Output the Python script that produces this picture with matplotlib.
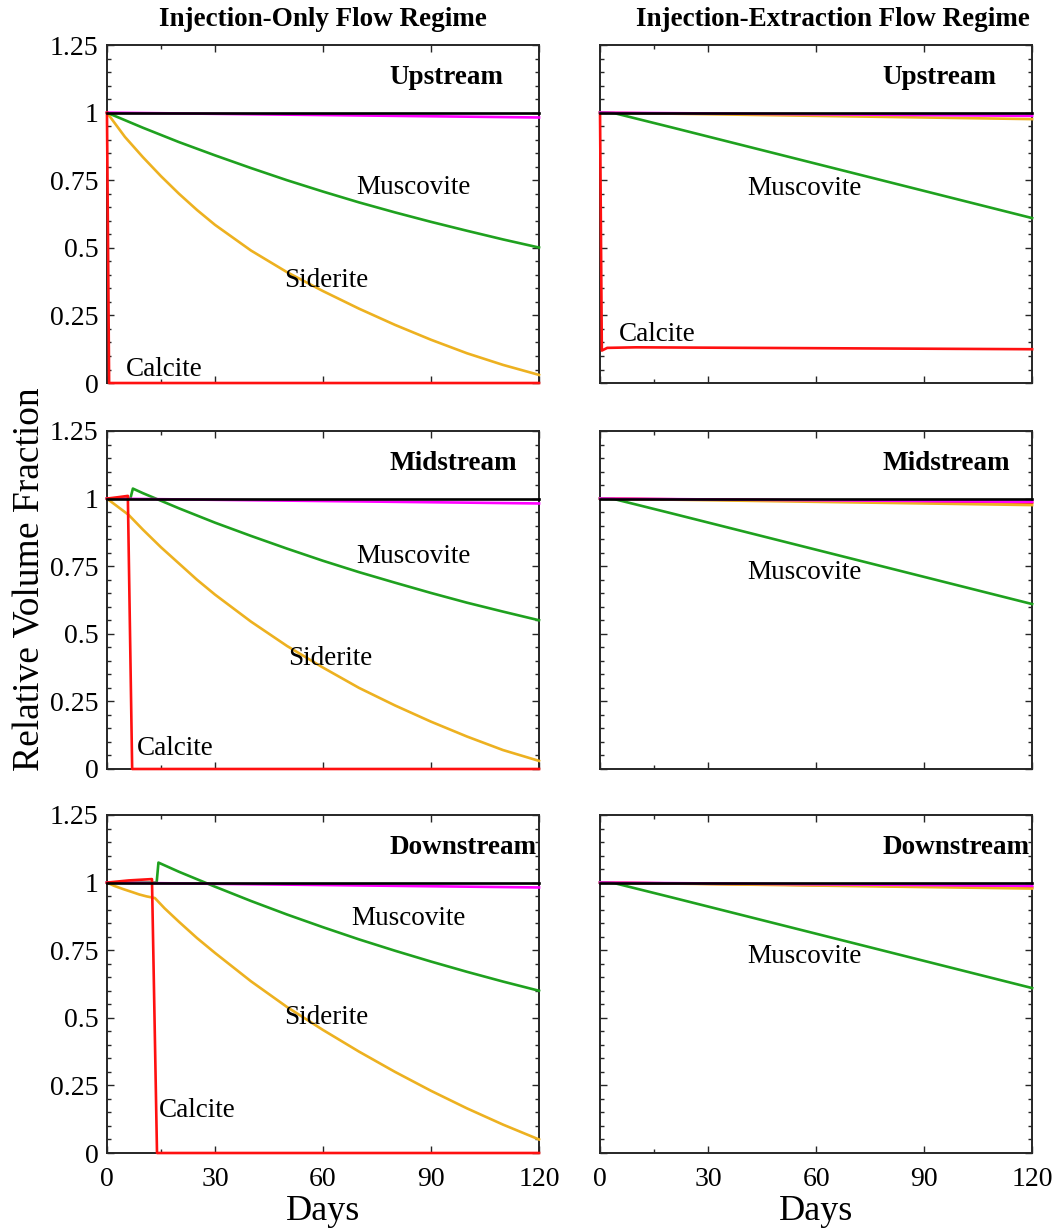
import matplotlib
matplotlib.use("Agg")
import matplotlib.pyplot as plt
from matplotlib.ticker import MultipleLocator, FixedLocator, FuncFormatter

plt.rcParams["font.family"] = ["Liberation Serif", "DejaVu Serif"]

# ---------------------------------------------------------------- data
regimes = ["Injection-Only Flow Regime", "Injection-Extraction Flow Regime"]
locations = ["Upstream", "Midstream", "Downstream"]

# Injection-only regime
io_up_calcite_t = [0, 0.6, 120]
io_up_calcite_v = [1.0, 0.0, 0.0]
io_up_siderite_t = [0, 5, 10, 15, 20, 25, 30, 40, 50, 60, 70, 80, 90, 100, 110, 120]
io_up_siderite_v = [1.0, 0.91, 0.835, 0.765, 0.70, 0.64, 0.585, 0.49, 0.41, 0.34, 0.275, 0.215, 0.16, 0.11, 0.067, 0.03]
io_up_muscovite_t = [0, 10, 20, 30, 40, 50, 60, 70, 80, 90, 100, 110, 120]
io_up_muscovite_v = [1.0, 0.944, 0.891, 0.842, 0.795, 0.750, 0.708, 0.668, 0.631, 0.596, 0.563, 0.531, 0.501]

io_mid_calcite_t = [0, 3, 5.8, 7.0, 120]
io_mid_calcite_v = [1.0, 1.005, 1.01, 0.0, 0.0]
io_mid_siderite_t = [0, 3, 6, 10, 15, 20, 25, 30, 40, 50, 60, 70, 80, 90, 100, 110, 120]
io_mid_siderite_v = [1.0, 0.97, 0.94, 0.885, 0.82, 0.76, 0.70, 0.645, 0.545, 0.455, 0.375, 0.30, 0.235, 0.175, 0.12, 0.07, 0.03]
io_mid_muscovite_t = [0, 6.5, 7.2, 10, 20, 30, 40, 50, 60, 70, 80, 90, 100, 110, 120]
io_mid_muscovite_v = [1.0, 1.0, 1.037, 1.020, 0.964, 0.911, 0.862, 0.815, 0.770, 0.728, 0.689, 0.651, 0.615, 0.582, 0.550]

io_down_calcite_t = [0, 6, 12.5, 13.9, 120]
io_down_calcite_v = [1.0, 1.008, 1.013, 0.0, 0.0]
io_down_siderite_t = [0, 2, 4.5, 7, 9, 11, 13.3, 16, 20, 25, 30, 40, 50, 60, 70, 80, 90, 100, 110, 120]
io_down_siderite_v = [1.0, 0.988, 0.976, 0.965, 0.956, 0.949, 0.943, 0.905, 0.855, 0.795, 0.74, 0.635, 0.54, 0.455, 0.375, 0.30, 0.23, 0.165, 0.105, 0.05]
io_down_muscovite_t = [0, 13.8, 14.3, 20, 30, 40, 50, 60, 70, 80, 90, 100, 110, 120]
io_down_muscovite_v = [1.0, 1.0, 1.074, 1.040, 0.985, 0.932, 0.882, 0.835, 0.790, 0.748, 0.708, 0.670, 0.634, 0.600]

io_other_t = [0, 120]
io_other_v = [1.0, 0.982]

# Injection-extraction regime
ie_up_calcite_t = [0, 0.5, 2, 10, 120]
ie_up_calcite_v = [1.0, 0.12, 0.13, 0.132, 0.125]
ie_up_siderite_t = [0, 120]
ie_up_siderite_v = [1.0, 0.976]
ie_mid_calcite_t = [0, 120]
ie_mid_calcite_v = [1.0, 0.985]
ie_mid_siderite_t = [0, 120]
ie_mid_siderite_v = [1.0, 0.976]
ie_down_calcite_t = [0, 120]
ie_down_calcite_v = [1.0, 0.982]
ie_down_siderite_t = [0, 120]
ie_down_siderite_v = [1.0, 0.978]
ie_muscovite_t = [0, 4, 20, 40, 60, 80, 100, 120]
ie_muscovite_v = [1.0, 0.998, 0.945, 0.878, 0.811, 0.744, 0.677, 0.61]
ie_other_t = [0, 120]
ie_other_v = [1.0, 0.988]

reference_t = [0, 120]
reference_v = [1.0, 1.0]

panels = {
    (0, 0): dict(cal=(io_up_calcite_t, io_up_calcite_v), sid=(io_up_siderite_t, io_up_siderite_v),
                 mus=(io_up_muscovite_t, io_up_muscovite_v), oth=(io_other_t, io_other_v),
                 labels=[("Muscovite", 85, 0.722), ("Siderite", 61, 0.378), ("Calcite", 16, 0.05)]),
    (1, 0): dict(cal=(io_mid_calcite_t, io_mid_calcite_v), sid=(io_mid_siderite_t, io_mid_siderite_v),
                 mus=(io_mid_muscovite_t, io_mid_muscovite_v), oth=(io_other_t, io_other_v),
                 labels=[("Muscovite", 85, 0.786), ("Siderite", 62, 0.41), ("Calcite", 19, 0.074)]),
    (2, 0): dict(cal=(io_down_calcite_t, io_down_calcite_v), sid=(io_down_siderite_t, io_down_siderite_v),
                 mus=(io_down_muscovite_t, io_down_muscovite_v), oth=(io_other_t, io_other_v),
                 labels=[("Muscovite", 83.6, 0.868), ("Siderite", 61, 0.5), ("Calcite", 25, 0.158)]),
    (0, 1): dict(cal=(ie_up_calcite_t, ie_up_calcite_v), sid=(ie_up_siderite_t, ie_up_siderite_v),
                 mus=(ie_muscovite_t, ie_muscovite_v), oth=(ie_other_t, ie_other_v),
                 labels=[("Muscovite", 56.8, 0.72), ("Calcite", 15.8, 0.18)]),
    (1, 1): dict(cal=(ie_mid_calcite_t, ie_mid_calcite_v), sid=(ie_mid_siderite_t, ie_mid_siderite_v),
                 mus=(ie_muscovite_t, ie_muscovite_v), oth=(ie_other_t, ie_other_v),
                 labels=[("Muscovite", 56.8, 0.727)]),
    (2, 1): dict(cal=(ie_down_calcite_t, ie_down_calcite_v), sid=(ie_down_siderite_t, ie_down_siderite_v),
                 mus=(ie_muscovite_t, ie_muscovite_v), oth=(ie_other_t, ie_other_v),
                 labels=[("Muscovite", 56.8, 0.728)]),
}

x_major = [0, 30, 60, 90, 120]
x_minor = [15]

# ---------------------------------------------------------------- styles
C_RED = "#ff1010"
C_ORANGE = "#edb120"
C_GREEN = "#1fa11f"
C_MAGENTA = "#ff00ff"
C_BLACK = "#000000"
SPINE = "#262626"
FS = 19.5
FS_TICK = 20
FS_AXIS = 26

fig = plt.figure(figsize=(10.59, 12.30), dpi=100)

col_x = [0.101, 0.5666]
ax_w = 0.408
row_y = [0.6886, 0.3748, 0.0626]
ax_h = 0.2748

for (r, c), p in panels.items():
    ax = fig.add_axes([col_x[c], row_y[r], ax_w, ax_h])
    lw = 1.9
    ax.plot(*p["sid"], color=C_ORANGE, lw=lw, zorder=3, clip_on=False)
    ax.plot(*p["mus"], color=C_GREEN, lw=lw, zorder=3.1, clip_on=False)
    ax.plot(*p["oth"], color=C_MAGENTA, lw=lw, zorder=3.2, clip_on=False)
    ax.plot(*p["cal"], color=C_RED, lw=lw, zorder=3.3 if c == 0 else 2.9, clip_on=False)
    ax.plot(reference_t, reference_v, color=C_BLACK, lw=lw, zorder=3.4, clip_on=False)

    for txt, tx, ty in p["labels"]:
        ax.text(tx, ty, txt, fontsize=FS, ha="center", va="center", zorder=5)
    ax.text(78.5, 1.13, locations[r], fontsize=FS, fontweight="bold",
            ha="left", va="center", zorder=5)

    ax.set_xlim(0, 120)
    ax.set_ylim(0, 1.25)
    ax.xaxis.set_major_locator(FixedLocator(x_major))
    ax.xaxis.set_minor_locator(FixedLocator(x_minor))
    ax.yaxis.set_major_locator(MultipleLocator(0.25))
    ax.yaxis.set_minor_locator(MultipleLocator(0.05))
    ax.yaxis.set_major_formatter(FuncFormatter(lambda v, pos: f"{v:g}"))
    ax.tick_params(which="both", direction="in", top=True, right=True,
                   color=SPINE, width=1.0, labelsize=FS_TICK)
    ax.tick_params(axis="y", pad=6)
    ax.tick_params(axis="x", pad=10)
    ax.tick_params(which="major", length=5)
    ax.tick_params(which="minor", length=3)
    if c == 1:
        ax.tick_params(labelleft=False)
    if r < 2:
        ax.tick_params(labelbottom=False)
    else:
        ax.set_xlabel("Days", fontsize=FS_AXIS, labelpad=2)
    for s in ax.spines.values():
        s.set_color(SPINE)
        s.set_linewidth(1.4)

fig.text(323 / 1059, 1 - 20 / 1230, regimes[0], fontsize=FS, fontweight="bold",
         ha="center", va="center")
fig.text(833 / 1059, 1 - 20 / 1230, regimes[1], fontsize=FS, fontweight="bold",
         ha="center", va="center")
fig.text(30 / 1059, 1 - 579 / 1230, "Relative Volume Fraction", fontsize=27,
         rotation=90, ha="center", va="center")

fig.savefig("out.png", dpi=100)
